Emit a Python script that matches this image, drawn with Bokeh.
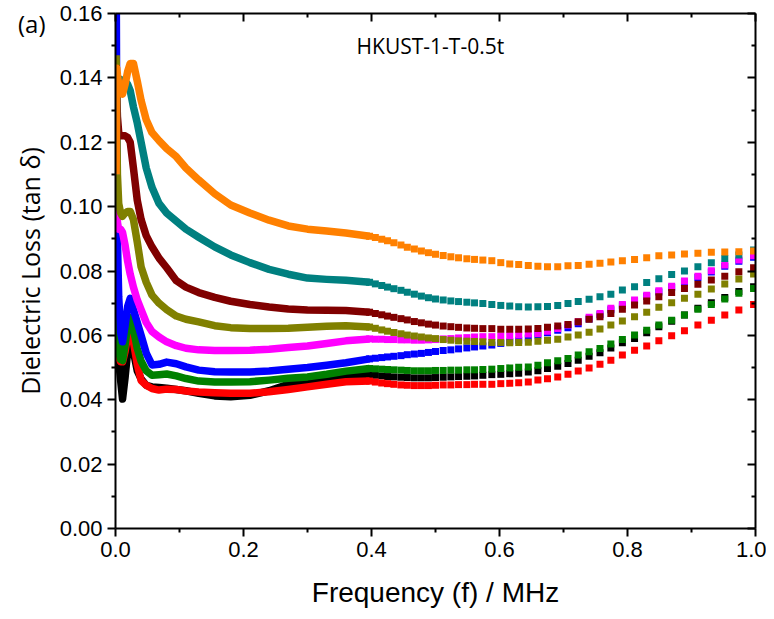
from bokeh.plotting import figure
from bokeh.models import (LinearAxis, FixedTicker, NumeralTickFormatter, Label,
                          ColumnDataSource, CustomJSTickFormatter)
from bokeh.embed import file_html
from bokeh.resources import INLINE

# ---------------- data ----------------
freq_dense_mhz = [0.001, 0.002, 0.003, 0.005, 0.008, 0.011, 0.015, 0.019, 0.023, 0.028,
                  0.034, 0.040, 0.048, 0.057, 0.068, 0.080, 0.095, 0.110, 0.130, 0.155,
                  0.180, 0.210, 0.240, 0.270, 0.300, 0.330, 0.360, 0.397]
freq_marker_mhz = [0.397, 0.406, 0.416, 0.425, 0.435, 0.446, 0.456, 0.467, 0.478, 0.489,
                   0.500, 0.512, 0.524, 0.536, 0.549, 0.561, 0.574, 0.588, 0.602, 0.616,
                   0.630, 0.645, 0.660, 0.675, 0.691, 0.707, 0.723, 0.740, 0.757, 0.774,
                   0.792, 0.811, 0.830, 0.849, 0.869, 0.889, 0.910, 0.931, 0.952, 0.974, 0.997]

black_dense = [0.065, 0.057, 0.054, 0.052, 0.046, 0.0402, 0.047, 0.055, 0.0595, 0.055,
               0.049, 0.0465, 0.0445, 0.044, 0.0438, 0.0436, 0.0432, 0.0428, 0.042, 0.0412,
               0.0409, 0.0414, 0.0428, 0.0448, 0.0456, 0.0465, 0.0474, 0.0478]
black_marker = [0.0478, 0.0476, 0.0474, 0.0472, 0.0471, 0.0470, 0.0469, 0.0468, 0.0468, 0.0468,
                0.0469, 0.0470, 0.0471, 0.0472, 0.0473, 0.0474, 0.0476, 0.0478, 0.0479, 0.0481,
                0.0482, 0.0486, 0.0490, 0.0497, 0.0504, 0.0513, 0.0523, 0.0535, 0.0546, 0.0561,
                0.0577, 0.0590, 0.0608, 0.0627, 0.0644, 0.0663, 0.0684, 0.0701, 0.0718, 0.0736, 0.0751]

red_dense = [0.066, 0.058, 0.055, 0.053, 0.0518, 0.0518, 0.055, 0.060, 0.0625, 0.058,
             0.051, 0.046, 0.0445, 0.0435, 0.043, 0.0433, 0.0432, 0.0427, 0.0424, 0.0422,
             0.042, 0.042, 0.0425, 0.0432, 0.044, 0.0448, 0.0456, 0.0458]
red_marker = [0.0458, 0.0455, 0.0452, 0.0450, 0.0448, 0.0446, 0.0445, 0.0444, 0.0444, 0.0444,
              0.0445, 0.0446, 0.0446, 0.0447, 0.0447, 0.0448, 0.0448, 0.0448, 0.0450, 0.0451,
              0.0453, 0.0455, 0.0461, 0.0465, 0.0471, 0.0479, 0.0489, 0.0499, 0.0510, 0.0523,
              0.0539, 0.0554, 0.0567, 0.0583, 0.0599, 0.0614, 0.0632, 0.0647, 0.0663, 0.0679, 0.0696]

green_dense = [0.085, 0.068, 0.060, 0.055, 0.0525, 0.0522, 0.057, 0.063, 0.0655, 0.062,
               0.056, 0.052, 0.049, 0.0476, 0.0478, 0.048, 0.0474, 0.0466, 0.0458, 0.0455,
               0.0455, 0.0456, 0.0461, 0.0467, 0.0471, 0.0479, 0.0489, 0.0497]
green_marker = [0.0497, 0.0496, 0.0495, 0.0494, 0.0493, 0.0492, 0.0491, 0.0490, 0.0490, 0.0490,
                0.0491, 0.0491, 0.0492, 0.0492, 0.0493, 0.0493, 0.0494, 0.0495, 0.0497, 0.0499,
                0.0501, 0.0502, 0.0507, 0.0515, 0.0521, 0.0528, 0.0539, 0.0549, 0.0559, 0.0573,
                0.0587, 0.0601, 0.0616, 0.0632, 0.0647, 0.0663, 0.0681, 0.0696, 0.0713, 0.0731, 0.0746]

blue_dense = [0.180, 0.120, 0.090, 0.072, 0.061, 0.058, 0.063, 0.069, 0.0715, 0.068,
              0.064, 0.060, 0.0545, 0.0508, 0.051, 0.0517, 0.0512, 0.0502, 0.0492, 0.0487,
              0.0486, 0.0486, 0.0489, 0.0495, 0.0500, 0.0507, 0.0515, 0.0527]
blue_marker = [0.0527, 0.0529, 0.0531, 0.0533, 0.0535, 0.0537, 0.0540, 0.0542, 0.0544, 0.0547,
               0.0550, 0.0553, 0.0555, 0.0558, 0.0561, 0.0564, 0.0567, 0.0570, 0.0575, 0.0580,
               0.0585, 0.0592, 0.0601, 0.0608, 0.0616, 0.0624, 0.0636, 0.0651, 0.0664, 0.0680,
               0.0692, 0.0706, 0.0721, 0.0735, 0.0749, 0.0765, 0.0780, 0.0797, 0.0815, 0.0830, 0.0843]

magenta_dense = [0.108, 0.100, 0.095, 0.093, 0.093, 0.092, 0.088, 0.083, 0.079, 0.075,
                 0.071, 0.068, 0.064, 0.0612, 0.0595, 0.058, 0.0568, 0.056, 0.0555, 0.0553,
                 0.0553, 0.0554, 0.0557, 0.0562, 0.0567, 0.0575, 0.0583, 0.0589]
magenta_marker = [0.0589, 0.0588, 0.0588, 0.0587, 0.0587, 0.0586, 0.0586, 0.0585, 0.0585, 0.0586,
                  0.0587, 0.0589, 0.0590, 0.0592, 0.0593, 0.0595, 0.0596, 0.0596, 0.0598, 0.0599,
                  0.0601, 0.0604, 0.0606, 0.0613, 0.0621, 0.0632, 0.0642, 0.0656, 0.0668, 0.0684,
                  0.0696, 0.0710, 0.0725, 0.0739, 0.0753, 0.0769, 0.0784, 0.0801, 0.0819, 0.0834, 0.0847]

olive_dense = [0.147, 0.125, 0.110, 0.101, 0.098, 0.097, 0.098, 0.0985, 0.0985, 0.096,
               0.089, 0.0813, 0.0765, 0.0725, 0.070, 0.068, 0.066, 0.065, 0.0642, 0.063,
               0.0624, 0.0621, 0.0621, 0.0622, 0.0625, 0.0628, 0.0630, 0.0626]
olive_marker = [0.0626, 0.0622, 0.0617, 0.0613, 0.0609, 0.0605, 0.0601, 0.0598, 0.0595, 0.0592,
                0.0590, 0.0587, 0.0585, 0.0583, 0.0582, 0.0581, 0.0580, 0.0578, 0.0578, 0.0577,
                0.0578, 0.0579, 0.0582, 0.0585, 0.0588, 0.0595, 0.0601, 0.0610, 0.0620, 0.0632,
                0.0645, 0.0658, 0.0672, 0.0687, 0.0701, 0.0715, 0.0728, 0.0744, 0.0760, 0.0775, 0.0791]

maroon_dense = [0.144, 0.135, 0.128, 0.123, 0.122, 0.122, 0.122, 0.1215, 0.120, 0.112,
                0.102, 0.096, 0.091, 0.0875, 0.084, 0.081, 0.077, 0.075, 0.0733, 0.0718,
                0.0706, 0.0696, 0.0688, 0.0682, 0.0679, 0.0678, 0.0677, 0.0672]
maroon_marker = [0.0672, 0.0668, 0.0664, 0.0660, 0.0656, 0.0652, 0.0648, 0.0643, 0.0639, 0.0635,
                 0.0632, 0.0629, 0.0627, 0.0625, 0.0623, 0.0622, 0.0621, 0.0621, 0.0619, 0.0619,
                 0.0619, 0.0620, 0.0621, 0.0625, 0.0629, 0.0634, 0.0642, 0.0650, 0.0658, 0.0668,
                 0.0681, 0.0694, 0.0707, 0.0720, 0.0733, 0.0746, 0.0759, 0.0772, 0.0784, 0.0798, 0.0810]

teal_dense = [0.110, 0.140, 0.140, 0.1398, 0.1395, 0.1392, 0.139, 0.138, 0.136, 0.131,
              0.126, 0.120, 0.112, 0.106, 0.101, 0.098, 0.0955, 0.093, 0.0905, 0.0875,
              0.085, 0.0826, 0.0805, 0.0790, 0.0778, 0.0774, 0.0771, 0.0765]
teal_marker = [0.0765, 0.0760, 0.0755, 0.0750, 0.0745, 0.0740, 0.0734, 0.0728, 0.0722, 0.0717,
               0.0713, 0.0710, 0.0707, 0.0705, 0.0703, 0.0701, 0.0699, 0.0696, 0.0693, 0.0691,
               0.0689, 0.0688, 0.0689, 0.0690, 0.0693, 0.0699, 0.0705, 0.0712, 0.0720, 0.0728,
               0.0741, 0.0751, 0.0764, 0.0776, 0.0789, 0.0800, 0.0813, 0.0826, 0.0839, 0.0850, 0.0865]

orange_dense = [0.110, 0.143, 0.141, 0.138, 0.136, 0.135, 0.138, 0.142, 0.1445, 0.1445,
                0.139, 0.133, 0.127, 0.123, 0.1205, 0.118, 0.1155, 0.112, 0.1083, 0.104,
                0.1005, 0.0980, 0.0958, 0.0940, 0.0930, 0.0924, 0.0918, 0.0908]
orange_marker = [0.0908, 0.0904, 0.0899, 0.0894, 0.0888, 0.0881, 0.0874, 0.0868, 0.0862, 0.0857,
                 0.0852, 0.0848, 0.0844, 0.0841, 0.0838, 0.0836, 0.0834, 0.0832, 0.0826, 0.0822,
                 0.0820, 0.0817, 0.0815, 0.0813, 0.0813, 0.0816, 0.0817, 0.0821, 0.0824, 0.0828,
                 0.0832, 0.0836, 0.0841, 0.0847, 0.0850, 0.0853, 0.0855, 0.0858, 0.0859, 0.0860, 0.0862]

x_ticks = [0.0, 0.2, 0.4, 0.6, 0.8, 1.0]
x_minor_ticks = [0.1, 0.3, 0.5, 0.7, 0.9]
y_ticks = [0.00, 0.02, 0.04, 0.06, 0.08, 0.10, 0.12, 0.14, 0.16]
y_minor_ticks = [0.01, 0.03, 0.05, 0.07, 0.09, 0.11, 0.13, 0.15]
panel_tag = "(a)"
panel_tag_level = [0.157]

series = [
    ("#000000", black_dense, black_marker),
    ("#FF0000", red_dense, red_marker),
    ("#008000", green_dense, green_marker),
    ("#0000FF", blue_dense, blue_marker),
    ("#FF00FF", magenta_dense, magenta_marker),
    ("#808000", olive_dense, olive_marker),
    ("#800000", maroon_dense, maroon_marker),
    ("#008080", teal_dense, teal_marker),
    ("#FF8000", orange_dense, orange_marker),
]

# ---------------- figure ----------------
p = figure(width=766, height=615, x_range=(0, 1.0), y_range=(0, 0.16),
           output_backend="svg", toolbar_location=None,
           min_border_left=115, min_border_right=11, min_border_top=13, min_border_bottom=87)
p.grid.visible = False
p.outline_line_color = None
p.background_fill_color = "white"
p.border_fill_color = "white"

for color, dense, marker in series:
    src_d = ColumnDataSource(dict(f=freq_dense_mhz, v=dense))
    src_m = ColumnDataSource(dict(f=freq_marker_mhz, v=marker))
    p.line("f", "v", source=src_d, line_color=color, line_width=7.5, line_join="round")
    p.scatter("f", "v", source=src_m, marker="square", size=7, fill_color=color, line_color=None)

tick_font = "Liberation Sans"

xt = FixedTicker(ticks=x_ticks, minor_ticks=x_minor_ticks)
yt = FixedTicker(ticks=y_ticks, minor_ticks=y_minor_ticks)

for ax in p.xaxis:
    ax.ticker = xt
    ax.formatter = NumeralTickFormatter(format="0.0")
    ax.axis_label = "Frequency (f) / MHz"
for ax in p.yaxis:
    ax.ticker = yt
    ax.formatter = NumeralTickFormatter(format="0.00")

for ax in list(p.xaxis) + list(p.yaxis):
    ax.axis_line_width = 2
    ax.major_tick_line_width = 2
    ax.minor_tick_line_width = 2
    ax.major_tick_out = 8
    ax.major_tick_in = 0
    ax.minor_tick_out = 4
    ax.minor_tick_in = 0
    ax.major_label_text_font = tick_font
    ax.major_label_text_font_size = "22px"
    ax.major_label_text_color = "black"
    ax.major_label_standoff = 5
    ax.axis_label_text_font_style = "normal"
    ax.axis_label_text_color = "black"

p.xaxis.axis_label_text_font = "Liberation Sans"
p.xaxis.axis_label_text_font_size = "28px"
p.xaxis.axis_label_standoff = 17

# outer left axis: carries the panel tag "(a)" and the y title (no line / ticks)
outer = LinearAxis(ticker=FixedTicker(ticks=panel_tag_level, minor_ticks=[]),
                   formatter=CustomJSTickFormatter(code="return '%s'" % panel_tag),
                   axis_line_color=None, major_tick_line_color=None, minor_tick_line_color=None,
                   major_tick_in=0, major_tick_out=0, minor_tick_in=0, minor_tick_out=0,
                   major_label_standoff=11, major_label_text_font="Open Sans",
                   major_label_text_font_size="24px", major_label_text_color="black",
                   axis_label="Dielectric Loss (tan δ)", axis_label_text_font="Open Sans",
                   axis_label_text_font_size="25px", axis_label_text_font_style="normal",
                   axis_label_text_color="black", axis_label_standoff=-32)
p.add_layout(outer, "left")

top = LinearAxis(ticker=FixedTicker(ticks=x_ticks, minor_ticks=x_minor_ticks),
                 formatter=CustomJSTickFormatter(code="return ''"), major_label_standoff=0)
right = LinearAxis(ticker=FixedTicker(ticks=y_ticks, minor_ticks=y_minor_ticks),
                   formatter=CustomJSTickFormatter(code="return ''"), major_label_standoff=0)
for ax in (top, right):
    ax.axis_line_width = 2
    ax.major_tick_line_width = 2
    ax.minor_tick_line_width = 2
    ax.major_tick_in = 8
    ax.major_tick_out = 0
    ax.minor_tick_in = 4
    ax.minor_tick_out = 0
    ax.major_label_text_font_size = "1px"
p.add_layout(top, "above")
p.add_layout(right, "right")

p.add_layout(Label(x=0.492, y=0.150, text="HKUST-1-T-0.5t", text_font="Open Sans",
                   text_font_size="21px", text_align="center", text_baseline="middle",
                   text_color="black"))

open("out.html", "w").write(file_html(p, INLINE))
